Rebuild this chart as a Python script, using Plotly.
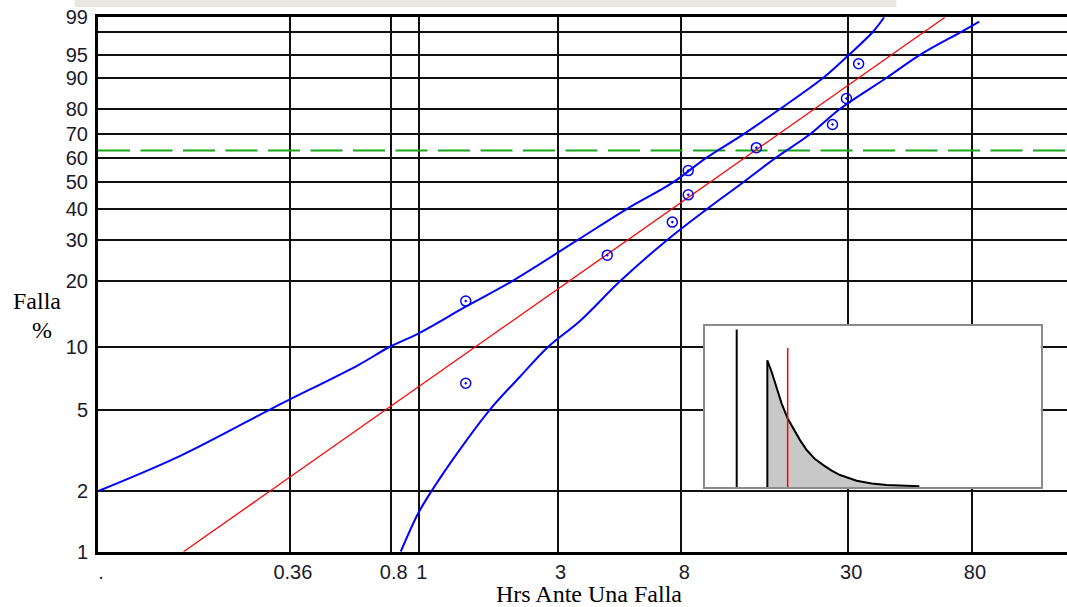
import numpy as np
import plotly.graph_objects as go

# --- Weibull probability plot data -------------------------------------
# failure times (hours) with their median-rank unreliability (%)
hours = [1.45, 1.45, 4.45, 7.45, 8.45, 8.45, 14.5, 26.5, 29.6, 32.6]
falla_pct = [6.7, 16.3, 26.0, 35.6, 45.2, 54.8, 64.4, 74.0, 83.7, 93.3]

# fitted Weibull line (straight on these axes)
fit_hours = [0.155, 64.6]
fit_pct = [1.0, 99.0]

# upper confidence bound
upper_hours = [0.0793, 0.151, 0.307, 0.36, 0.619, 0.795, 1.003, 1.449, 2.09,
               3.50, 5.19, 7.49, 9.72, 13.07, 17.48, 24.64, 30.2, 36.6, 39.9]
upper_pct = [2.0, 2.97, 5.0, 5.6, 8.19, 10.0, 11.6, 15.36, 20.0,
             30.0, 40.0, 50.0, 60.0, 70.0, 80.0, 90.0, 95.0, 98.0, 99.0]

# lower confidence bound
lower_hours = [0.866, 0.995, 1.107, 1.366, 1.757, 2.228, 2.788, 3.584, 4.92,
               7.12, 9.80, 13.04, 16.84, 22.17, 28.1, 40.7, 53.0, 73.8, 84.8]
lower_pct = [1.0, 1.55, 2.0, 3.11, 5.0, 7.2, 10.0, 13.2, 20.0,
             30.0, 40.0, 50.0, 60.0, 70.0, 80.0, 90.0, 95.0, 98.0, 98.75]

# characteristic-life reference level (63.2 %)
eta_level_pct = 63.2

# axis ticks
x_tick_vals = [0.0787, 0.36, 0.8, 1, 3, 8, 30, 80]
x_tick_text = [".", "0.36", "0.8", "1", "3", "8", "30", "80"]
x_limits = [0.0787, 169.9]
y_tick_pct = [1, 2, 5, 10, 20, 30, 40, 50, 60, 70, 80, 90, 95, 98, 99]
y_tick_text = ["1", "2", "5", "10", "20", "30", "40", "50", "60", "70",
               "80", "90", "95", "", "99"]

# --- inset: probability density -----------------------------------------
pdf_t = [13.4, 13.4, 15.3, 17.48, 19.67, 22.3, 24.77, 27.69, 30.61, 34.25,
         37.9, 41.54, 45.19, 48.83, 52.48, 59.04, 65.6, 79.89]
pdf_f = [0.0, 0.0716, 0.0650, 0.0556, 0.0472, 0.0388, 0.0332, 0.0266,
         0.0210, 0.0159, 0.0125, 0.0094, 0.0069, 0.0051, 0.0037, 0.0022,
         0.0013, 0.0006]
origin_t = 0.0
origin_top = 0.0890
mark_t = 22.3
mark_top = 0.0785
inset_t_range = [-13.87, 132.98]
inset_f_range = [0.0, 0.0911]


def weibull_y(pct):
    p = np.asarray(pct, dtype=float) / 100.0
    return np.log(-np.log(1.0 - p))


W = 1067
H = 607

fig = go.Figure()

# reference level
fig.add_trace(go.Scatter(
    x=x_limits, y=weibull_y([eta_level_pct, eta_level_pct]),
    mode="lines", line=dict(color="#1aa51a", width=1.8, dash="32px,10.5px"),
    hoverinfo="skip"))

# confidence bounds
fig.add_trace(go.Scatter(
    x=upper_hours, y=weibull_y(upper_pct), mode="lines",
    line=dict(color="#0000ff", width=2, shape="spline", smoothing=1.0)))
fig.add_trace(go.Scatter(
    x=lower_hours, y=weibull_y(lower_pct), mode="lines",
    line=dict(color="#0000ff", width=2, shape="spline", smoothing=1.0)))

# fitted line
fig.add_trace(go.Scatter(
    x=fit_hours, y=weibull_y(fit_pct), mode="lines",
    line=dict(color="#ff0000", width=1.3)))

# observed failures
fig.add_trace(go.Scatter(
    x=hours, y=weibull_y(falla_pct), mode="markers",
    marker=dict(symbol="circle-open-dot", size=10, color="#0000ff",
                line=dict(width=1.5, color="#0000ff"))))

# inset: white panel, shaded density, markers
t0, t1 = inset_t_range
f0, f1 = inset_f_range
fig.add_trace(go.Scatter(
    x=[t0, t1, t1, t0, t0], y=[f0, f0, f1, f1, f0], xaxis="x2", yaxis="y2",
    mode="lines", fill="toself", fillcolor="white",
    line=dict(color="white", width=0), hoverinfo="skip"))
fig.add_trace(go.Scatter(
    x=pdf_t, y=pdf_f, xaxis="x2", yaxis="y2", mode="lines",
    fill="tozeroy", fillcolor="#c8c8c8",
    line=dict(color="black", width=2)))
fig.add_trace(go.Scatter(
    x=[origin_t, origin_t], y=[0, origin_top], xaxis="x2", yaxis="y2",
    mode="lines", line=dict(color="black", width=2)))
fig.add_trace(go.Scatter(
    x=[mark_t, mark_t], y=[0, mark_top], xaxis="x2", yaxis="y2",
    mode="lines", line=dict(color="#ff0000", width=1.5)))

y_lo = float(weibull_y([1])[0]) - 1e-6
y_hi = float(weibull_y([99])[0]) + 1e-6

fig.update_layout(
    width=W, height=H,
    margin=dict(l=0, r=0, t=0, b=0, autoexpand=False),
    paper_bgcolor="white", plot_bgcolor="white",
    showlegend=False,
    font=dict(family="Liberation Sans, Arial, sans-serif", color="#111"),
    xaxis=dict(
        type="log", domain=[98 / W, 1.0], automargin=False,
        range=[np.log10(x_limits[0]), np.log10(x_limits[1])],
        tickmode="array", tickvals=x_tick_vals, ticktext=x_tick_text,
        showgrid=True, gridcolor="#111", gridwidth=2,
        showline=True, linecolor="#000", linewidth=3, mirror=True,
        ticks="", ticklabelstandoff=0, ticklabelshift=3,
        tickfont=dict(size=20, color="#1a1a2a"), zeroline=False,
    ),
    yaxis=dict(
        domain=[(H - 551.7) / H, (H - 17.3) / H], automargin=False,
        range=[y_lo, y_hi],
        tickmode="array", tickvals=weibull_y(y_tick_pct), ticktext=y_tick_text,
        showgrid=True, gridcolor="#111", gridwidth=2,
        showline=True, linecolor="#000", linewidth=3, mirror=False,
        ticks="", ticklabelstandoff=3,
        tickfont=dict(size=20, color="#1a1a2a"), zeroline=False,
    ),
    xaxis2=dict(
        domain=[705 / W, 1040.7 / W], anchor="y2", range=inset_t_range,
        automargin=False,
        showgrid=False, zeroline=False, showticklabels=False, ticks="",
        showline=True, linecolor="#8a8a8a", linewidth=2, mirror=True,
    ),
    yaxis2=dict(
        domain=[(H - 487.3) / H, (H - 325.7) / H], anchor="x2",
        range=inset_f_range, automargin=False,
        showgrid=False, zeroline=False, showticklabels=False, ticks="",
        showline=True, linecolor="#8a8a8a", linewidth=2, mirror=True,
    ),
    shapes=[dict(type="rect", xref="paper", yref="paper",
                 x0=0.07, x1=0.84, y0=(H - 7) / H, y1=1.0,
                 fillcolor="#e9e7e1", line=dict(width=0), layer="below")],
    annotations=[
        dict(text="Hrs Ante Una Falla", x=589 / W, y=(H - 594) / H,
             xref="paper", yref="paper", showarrow=False,
             xanchor="center", yanchor="middle",
             font=dict(family="Liberation Serif, Times New Roman, serif",
                       size=24, color="#000")),
        dict(text="Falla", x=37.2 / W, y=(H - 301) / H,
             xref="paper", yref="paper", showarrow=False,
             xanchor="center", yanchor="middle",
             font=dict(family="Liberation Serif, Times New Roman, serif",
                       size=24, color="#000")),
        dict(text="%", x=41.7 / W, y=(H - 330) / H,
             xref="paper", yref="paper", showarrow=False,
             xanchor="center", yanchor="middle",
             font=dict(family="Liberation Serif, Times New Roman, serif",
                       size=24, color="#000")),
    ],
)

fig.write_html("out.html")
